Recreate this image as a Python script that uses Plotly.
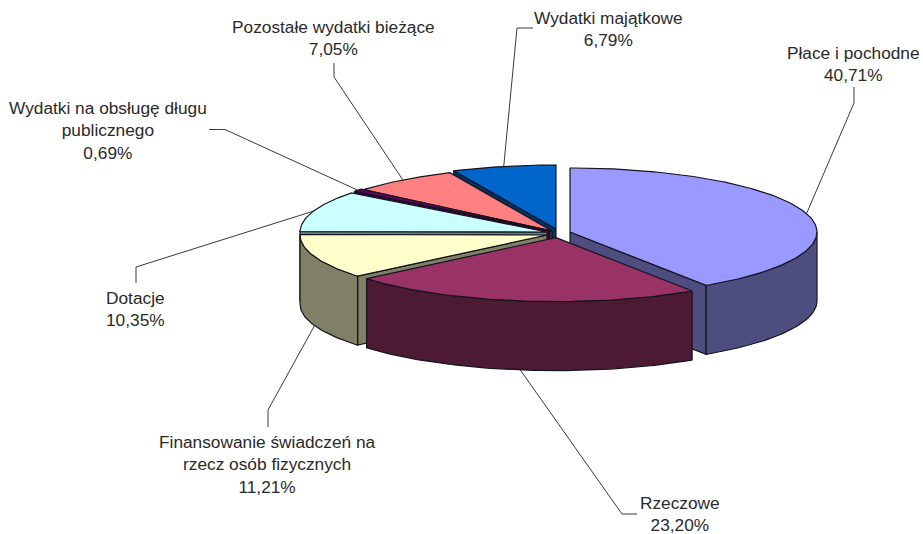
import math
import plotly.graph_objects as go

names = ["Płace i pochodne", "Rzeczowe", "Finansowanie świadczeń na<br>rzecz osób fizycznych",
         "Dotacje", "Wydatki na obsługę długu<br>publicznego", "Pozostałe wydatki bieżące", "Wydatki majątkowe"]
values = [40.71, 23.20, 11.21, 10.35, 0.69, 7.05, 6.79]

top_colors = ["#9999FF", "#993366", "#FFFFCC", "#CCFFFF", "#660066", "#FF8080", "#0066CC"]
side_colors = ["#4D4D80", "#4D1A33", "#808066", "#668080", "#330033", "#804040", "#003366"]

# Projection of the tilted pie, in page pixels
RX, RY, DEPTH = 247, 64, 69
apex = [(570, 232), (556, 237.6), (547, 235), (547, 232), (550, 230.5), (552, 231), (556, 229)]
draw_order = [6, 5, 4, 3, 2, 0, 1]

# Leader-line elbows and label anchors, in page pixels
elbows = [[(854, 103), (854, 87)], [(622, 514), (637, 514)], [(268, 410), (268, 427)],
          [(136, 267), (136, 283)], [(225, 129.5), (209, 129.5)], [(334, 77), (334, 63)], [(517, 28), (533, 28)]]
label_xy = [(853, 63.5), (680, 514), (267, 464.5), (135, 308.5), (108, 130.5), (333, 38), (608, 28.5)]

OUTLINE = "#14141e"
LEADER = "#3a3a3a"
FONT = dict(family="Liberation Sans", size=17.3, color="#2a2a2a")


def pt(c, deg, dy=0):
    t = math.radians(deg)
    return c[0] + RX * math.sin(t), c[1] - RY * math.cos(t) + dy


def arc(c, a, b, dy=0):
    n = max(2, int(abs(b - a)) + 2)
    return [pt(c, a + (b - a) * i / (n - 1), dy) for i in range(n)]


fig = go.Figure()


def poly(points, color):
    fig.add_trace(go.Scatter(x=[p[0] for p in points] + [points[0][0]],
                             y=[p[1] for p in points] + [points[0][1]],
                             mode="lines", fill="toself", fillcolor=color,
                             line=dict(color=OUTLINE, width=1.2), hoverinfo="skip", showlegend=False))


total = sum(values)
starts, ends = [], []
acc = 0
for v in values:
    starts.append(acc / total * 360)
    acc += v
    ends.append(acc / total * 360)

# Leader lines, behind the pie
for i in range(len(values)):
    mid = (starts[i] + ends[i]) / 2
    front = math.cos(math.radians(mid)) < 0
    p0 = pt(apex[i], mid, DEPTH if front else 0)
    path = [p0] + elbows[i]
    fig.add_trace(go.Scatter(x=[p[0] for p in path], y=[p[1] for p in path], mode="lines",
                             line=dict(color=LEADER, width=1), hoverinfo="skip", showlegend=False))

# Slices, back to front
for i in draw_order:
    a, b, c = starts[i], ends[i], apex[i]
    for ang, visible in ((a, math.sin(math.radians(a)) < -1e-9), (b, math.sin(math.radians(b)) > 1e-9)):
        if visible:
            e = pt(c, ang)
            poly([c, e, (e[0], e[1] + DEPTH), (c[0], c[1] + DEPTH)], side_colors[i])
    wa, wb = max(a, 90), min(b, 270)
    if wb > wa:
        poly(arc(c, wa, wb) + arc(c, wb, wa, DEPTH), side_colors[i])
    poly([c] + arc(c, a, b), top_colors[i])

for i in range(len(values)):
    pct = f"{values[i]:.2f}".replace(".", ",") + "%"
    fig.add_annotation(x=label_xy[i][0], y=label_xy[i][1], text=f"{names[i]}<br>{pct}",
                       showarrow=False, font=FONT, align="center", xanchor="center", yanchor="middle")

fig.update_layout(width=923, height=534, autosize=False, margin=dict(l=0, r=0, t=0, b=0),
                  paper_bgcolor="white", plot_bgcolor="white",
                  xaxis=dict(visible=False, range=[0, 923], fixedrange=True),
                  yaxis=dict(visible=False, range=[534, 0], fixedrange=True))

fig.write_html("out.html", config={"displayModeBar": False},
               post_script="document.body.style.margin='0';document.body.style.overflow='hidden';")
